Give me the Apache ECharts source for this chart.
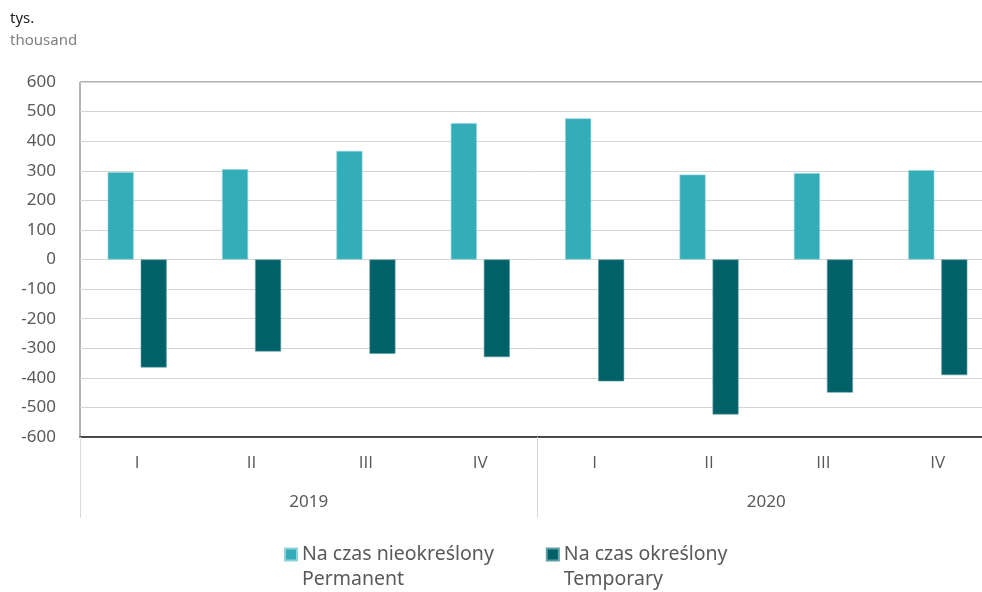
<!DOCTYPE html>
<html>
<head>
<meta charset="utf-8">
<script src="https://cdn.jsdelivr.net/npm/echarts@6/dist/echarts.min.js"></script>
<style>
  html, body { margin: 0; padding: 0; background: #fff; }
  #chart { width: 982px; height: 592px; }
</style>
</head>
<body>
<div id="chart"></div>
<script>
  var quarters = ['I', 'II', 'III', 'IV', 'I', 'II', 'III', 'IV'];
  var years = ['2019', '2020'];
  var permanent = [295, 305, 367, 461, 477, 287, 292, 302];
  var temporary = [-365, -311, -319, -330, -412, -524, -450, -391];
  var yTicks = { min: -600, max: 600, interval: 100 };

  var font = 'Noto Sans';
  var labelColor = '#595959';
  var permColor = '#33adb8';
  var tempColor = '#006168';

  var myChart = echarts.init(document.getElementById('chart'));
  var option = {
    animation: false,
    textStyle: { fontFamily: font },
    graphic: [
      { type: 'text', left: 10, top: 11, style: { text: 'tys.', fill: '#222', font: '15px ' + font } },
      { type: 'text', left: 10, top: 33, style: { text: 'thousand', fill: '#7f7f7f', font: '15px ' + font } }
    ],
    legend: {
      left: 279,
      top: 512,
      itemWidth: 12,
      itemHeight: 12,
      itemGap: 52,
      icon: 'rect',
      textStyle: { color: labelColor, fontSize: 19.5, lineHeight: 25, fontFamily: font },
      data: ['perm', 'temp'],
      formatter: function(name) {
        return name === 'perm' ? '\nNa czas nieokreślony\nPermanent' : '\nNa czas określony\nTemporary';
      }
    },
    grid: {
      left: 80,
      top: 82,
      width: 915,
      height: 355,
      outerBoundsMode: 'none',
      show: true,
      borderColor: '#666',
      borderWidth: 1
    },
    xAxis: [{
      type: 'category',
      data: quarters,
      position: 'bottom',
      axisLine: { show: true, onZero: false, lineStyle: { color: '#222', width: 1.5 } },
      axisTick: { show: false },
      axisLabel: { color: labelColor, fontSize: 17, fontFamily: 'Open Sans', margin: 18 },
      splitLine: { show: false }
    }, {
      type: 'category',
      data: years,
      position: 'bottom',
      axisLine: { show: false, onZero: false },
      axisTick: { show: true, length: 81, lineStyle: { color: '#d9d9d9' } },
      axisLabel: { color: labelColor, fontSize: 17, fontFamily: font, margin: 57 },
      splitLine: { show: false }
    }],
    yAxis: {
      type: 'value',
      min: yTicks.min,
      max: yTicks.max,
      interval: yTicks.interval,
      axisLine: { show: false },
      axisTick: { show: false },
      axisLabel: { color: labelColor, fontSize: 17, fontFamily: font, margin: 24 },
      splitLine: { lineStyle: { color: '#d4d4d4', width: 1 } }
    },
    series: [{
      name: 'perm',
      type: 'bar',
      xAxisIndex: 0,
      data: permanent,
      barWidth: 26,
      barGap: '27%',
      itemStyle: { color: permColor, borderColor: '#8fd3d9', borderWidth: 0.6 }
    }, {
      name: 'temp',
      type: 'bar',
      xAxisIndex: 0,
      data: temporary,
      barWidth: 26,
      barGap: '27%',
      itemStyle: { color: tempColor, borderColor: '#5f9ea3', borderWidth: 0.6 }
    }]
  };
  myChart.setOption(option);
</script>
</body>
</html>
